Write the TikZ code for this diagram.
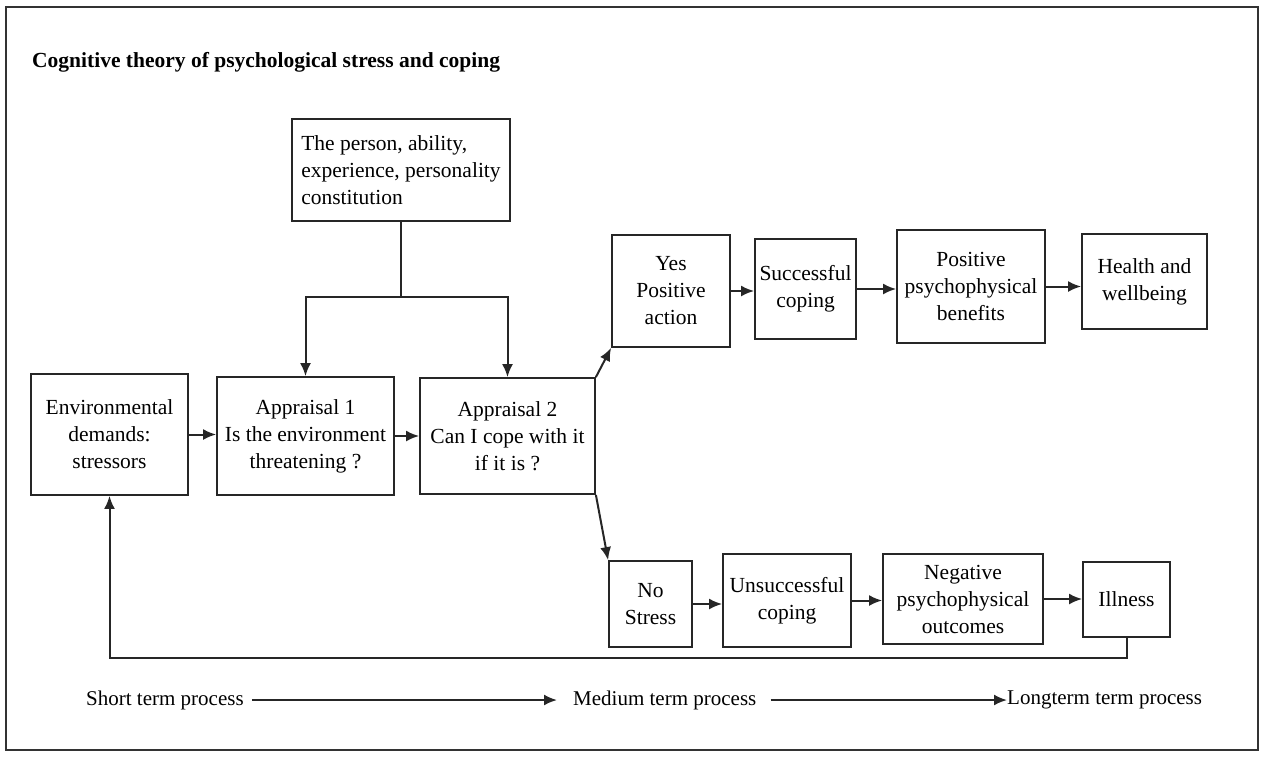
\documentclass[tikz,border=0pt]{standalone}
\usepackage{fontspec}
\setmainfont{Liberation Serif}
\usetikzlibrary{arrows.meta}
\begin{document}
\begin{tikzpicture}[x=1pt,y=-1pt,
 box/.style={draw=black!85, line width=1.8pt, align=center, inner sep=0pt, font=\fontsize{21.5}{27}\selectfont},
 arr/.style={-{Latex[length=13pt,width=11pt]}, line width=2pt, draw=black!85},
 ln/.style={line width=2pt, draw=black!85},
 lbl/.style={font=\fontsize{21}{25}\selectfont, inner sep=0pt}]
\useasboundingbox (0,0) rectangle (1261,756);
\draw[line width=1.5pt, black!80] (6,7) rectangle (1258,750);

\node[anchor=west, inner sep=0pt, font=\bfseries\fontsize{21.5}{24}\selectfont] (title) at (32,62) {Cognitive theory of psychological stress and coping};

\node[box, align=left, minimum width=218pt, minimum height=102pt] (person) at (401,170) {The person, ability,\\experience, personality\\constitution};

\node[box, minimum width=157pt, minimum height=121pt] (env) at (109.5,434.5) {Environmental\\demands:\\stressors};
\node[box, minimum width=177pt, minimum height=118pt] (app1) at (305.5,436) {Appraisal 1\\Is the environment\\threatening ?};
\node[box, minimum width=175pt, minimum height=116pt] (app2) at (507.5,436) {Appraisal 2\\Can I cope with it\\if it is ?};

\node[box, minimum width=118pt, minimum height=112pt] (yes) at (671,291) {Yes\\Positive\\action};
\node[box, minimum width=101pt, minimum height=100pt] (succ) at (805.5,289) {Successful\\coping};
\node[box, minimum width=148pt, minimum height=113pt] (pos) at (971,286.5) {Positive\\psychophysical\\benefits};
\node[box, minimum width=125pt, minimum height=95pt] (health) at (1144.5,281.5) {Health and\\wellbeing};

\node[box, minimum width=83pt, minimum height=86pt] (no) at (650.5,604) {No\\Stress};
\node[box, minimum width=128pt, minimum height=93pt] (unsucc) at (787,600.5) {Unsuccessful\\coping};
\node[box, minimum width=160pt, minimum height=90pt] (neg) at (963,599) {Negative\\psychophysical\\outcomes};
\node[box, minimum width=87pt, minimum height=75pt] (ill) at (1126.5,599.5) {Illness};

% person influence
\coordinate (sp) at (401,297);
\draw[ln] (person.south) -- (sp);
\draw[arr] (sp) -| (app1.north);
\draw[arr] (sp) -| (app2.north);

% main chain
\draw[arr] (env.east) -- (env.east -| app1.west);
\draw[arr] (app1.east) -- (app1.east -| app2.west);
\draw[arr] (app2.north east) -- (yes.south west);
\draw[arr] (app2.south east) -- (no.north west);

\draw[arr] (yes.east) -- (yes.east -| succ.west);
\draw[arr] (succ.east) -- (succ.east -| pos.west);
\draw[arr] (pos.east) -- (pos.east -| health.west);

\draw[arr] (no.east) -- (no.east -| unsucc.west);
\draw[arr] (unsucc.east) -- (unsucc.east -| neg.west);
\draw[arr] (neg.east) -- (neg.east -| ill.west);

% feedback
\coordinate (fb) at (109.5,658);
\draw[arr] (ill.south) -- (ill.south |- fb) -- (fb) -- (env.south);

% time scale
\node[lbl, anchor=west] (short) at (86,700) {Short term process};
\node[lbl, anchor=west] (med) at (573,700) {Medium term process};
\node[lbl, anchor=west] (long) at (1007,700) {Longterm term process};
\draw[arr] ([xshift=8pt]short.east) -- ([xshift=-16pt]med.west);
\draw[arr] ([xshift=14pt]med.east) -- (long.west);
\end{tikzpicture}
\end{document}
